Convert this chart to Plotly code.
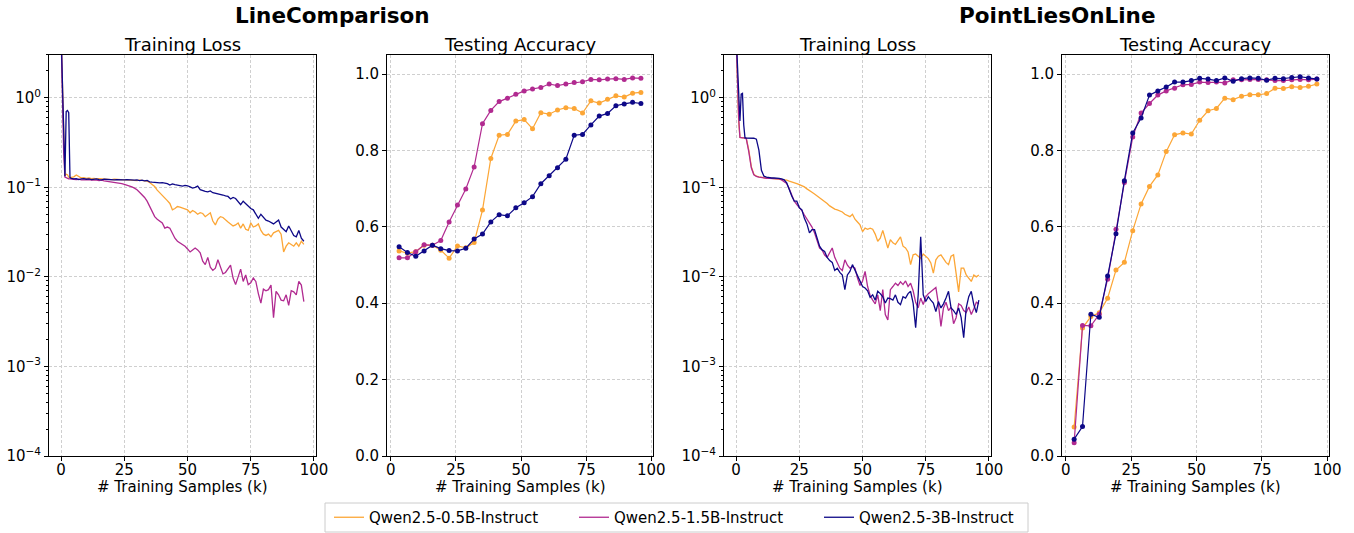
import plotly.graph_objects as go

W, H = 1354, 533

MODELS = ["Qwen2.5-0.5B-Instruct", "Qwen2.5-1.5B-Instruct", "Qwen2.5-3B-Instruct"]
COLORS = ["#fca636", "#b12a90", "#0d0887"]
TASKS = ["LineComparison", "PointLiesOnLine"]
SUBTITLES = ["Training Loss", "Testing Accuracy"]
XLABEL = "# Training Samples (k)"

# ---- training loss (x in thousands of samples) ----
LOSS_K = [0, 0.5, 1, 1.5, 2, 2.5, 3, 3.5] + list(range(4, 97))

LC_LOSS_05B = [5, 1.2, 0.3, 0.135, 0.14, 0.138, 0.13, 0.128,
    0.129, 0.131, 0.137, 0.133, 0.127, 0.128, 0.126, 0.127, 0.125, 0.126,
    0.124, 0.125, 0.124, 0.123, 0.124, 0.123, 0.122, 0.123, 0.122, 0.121,
    0.122, 0.121, 0.121, 0.120, 0.121, 0.120, 0.119, 0.120, 0.119, 0.118, 0.117,
    0.113, 0.108, 0.102, 0.093, 0.087, 0.082, 0.078, 0.071, 0.066, 0.056,
    0.058, 0.061, 0.060, 0.059, 0.058, 0.056, 0.052, 0.055, 0.053, 0.050,
    0.052, 0.051, 0.047, 0.049, 0.052, 0.042, 0.038, 0.044, 0.047, 0.046,
    0.043, 0.041, 0.039, 0.037, 0.038, 0.040, 0.035, 0.039, 0.034, 0.033,
    0.040, 0.036, 0.037, 0.039, 0.033, 0.030, 0.029, 0.030, 0.028, 0.031,
    0.032, 0.033, 0.030, 0.019, 0.022, 0.024, 0.023, 0.022, 0.024, 0.022,
    0.025, 0.023]

LC_LOSS_15B = [5, 0.8, 0.25, 0.13, 0.127, 0.125, 0.124, 0.124,
    0.123, 0.123, 0.122, 0.123, 0.121, 0.122, 0.121, 0.122, 0.120, 0.121,
    0.120, 0.119, 0.120, 0.118, 0.117, 0.117, 0.116, 0.115, 0.113, 0.112,
    0.110, 0.108, 0.106, 0.103, 0.101, 0.098, 0.094, 0.088, 0.083, 0.077,
    0.070, 0.062, 0.054, 0.047, 0.044, 0.042, 0.040, 0.035, 0.036, 0.035,
    0.031, 0.027, 0.025, 0.024, 0.023, 0.022, 0.0205, 0.019, 0.020, 0.021,
    0.020, 0.0185, 0.015, 0.0137, 0.0165, 0.0128, 0.0118, 0.0125, 0.0155, 0.0128,
    0.0108, 0.0112, 0.0125, 0.0135, 0.0097, 0.0082, 0.0100, 0.0122, 0.0089, 0.0105,
    0.0082, 0.0086, 0.0097, 0.0089, 0.0065, 0.0051, 0.0073, 0.0070, 0.0072, 0.0081,
    0.0035, 0.0069, 0.0063, 0.0055, 0.0054, 0.0063, 0.0048, 0.0070, 0.0068, 0.0063,
    0.0089, 0.0081, 0.0053]

LC_LOSS_3B = [5, 1.5, 0.3, 0.133, 0.70, 0.72, 0.68, 0.128,
    0.126, 0.124, 0.125, 0.122, 0.124, 0.125, 0.123, 0.124, 0.122, 0.123,
    0.124, 0.122, 0.121, 0.123, 0.122, 0.121, 0.122, 0.121, 0.122, 0.121,
    0.120, 0.121, 0.122, 0.121, 0.121, 0.120, 0.121, 0.119, 0.120, 0.118, 0.119,
    0.115, 0.114, 0.113, 0.114, 0.112, 0.113, 0.112, 0.110, 0.106, 0.109,
    0.107, 0.106, 0.104, 0.103, 0.105, 0.104, 0.101, 0.098, 0.100, 0.103,
    0.094, 0.091, 0.090, 0.089, 0.091, 0.087, 0.086, 0.085, 0.083, 0.082,
    0.080, 0.079, 0.074, 0.077, 0.075, 0.069, 0.064, 0.070, 0.066, 0.061,
    0.058, 0.056, 0.051, 0.045, 0.050, 0.046, 0.043, 0.042, 0.040, 0.039,
    0.041, 0.043, 0.036, 0.034, 0.032, 0.037, 0.033, 0.029, 0.028, 0.033,
    0.027, 0.025]

PL_LOSS_05B = [5, 1.5, 0.55, 0.36, 0.357, 0.356, 0.356, 0.356,
    0.352, 0.26, 0.17, 0.140, 0.133, 0.131, 0.129, 0.128, 0.127, 0.127,
    0.126, 0.127, 0.126, 0.125, 0.124, 0.122, 0.120, 0.117, 0.115, 0.113,
    0.110, 0.107, 0.105, 0.101, 0.096, 0.091, 0.088, 0.084, 0.080, 0.077,
    0.072, 0.070, 0.066, 0.062, 0.059, 0.057, 0.056, 0.055, 0.053, 0.050,
    0.048, 0.047, 0.050, 0.044, 0.041, 0.038, 0.032, 0.035, 0.034, 0.035,
    0.034, 0.030, 0.025, 0.027, 0.033, 0.027, 0.021, 0.026, 0.024, 0.023,
    0.025, 0.028, 0.022, 0.021, 0.019, 0.0137, 0.0176, 0.018, 0.017, 0.016,
    0.018, 0.017, 0.016, 0.0143, 0.011, 0.0155, 0.017, 0.0176, 0.016, 0.0145,
    0.0137, 0.017, 0.0176, 0.0105, 0.0068, 0.0125, 0.0125, 0.0105, 0.0095, 0.0089,
    0.0105, 0.0100, 0.0105]

PL_LOSS_15B = [5, 1.6, 0.6, 0.36, 0.356, 0.356, 0.356, 0.355,
    0.350, 0.25, 0.165, 0.138, 0.132, 0.130, 0.128, 0.127, 0.126, 0.126,
    0.126, 0.126, 0.125, 0.124, 0.121, 0.116, 0.110, 0.096, 0.082, 0.070,
    0.064, 0.059, 0.055, 0.049, 0.044, 0.040, 0.036, 0.031, 0.025, 0.021,
    0.020, 0.0175, 0.0165, 0.019, 0.021, 0.0165, 0.0143, 0.0125, 0.0118, 0.0155,
    0.0135, 0.0125, 0.0130, 0.0125, 0.0097, 0.0080, 0.0090, 0.0115, 0.0078, 0.0062,
    0.0055, 0.0050, 0.0063, 0.0042, 0.0072, 0.0038, 0.0033, 0.0072, 0.0078, 0.0085,
    0.0080, 0.0088, 0.0082, 0.0090, 0.0078, 0.0085, 0.0070, 0.0052, 0.0045, 0.0058,
    0.0049, 0.0060, 0.0065, 0.0068, 0.0072, 0.0076, 0.0050, 0.0028, 0.0045, 0.0052,
    0.0042, 0.0046, 0.0030, 0.0035, 0.0050, 0.0048, 0.0042, 0.0040, 0.0046, 0.0038,
    0.0044, 0.0052, 0.0050]

PL_LOSS_3B = [5, 2.5, 1.0, 0.55, 1.1, 1.12, 0.5, 0.356,
    0.355, 0.355, 0.354, 0.353, 0.345, 0.26, 0.155, 0.133, 0.130, 0.128,
    0.127, 0.127, 0.127, 0.126, 0.124, 0.121, 0.112, 0.092, 0.080, 0.070,
    0.070, 0.059, 0.056, 0.045, 0.039, 0.031, 0.0336, 0.0336, 0.027, 0.022,
    0.020, 0.0192, 0.0165, 0.0152, 0.0145, 0.0118, 0.0125, 0.0112, 0.0105, 0.0072,
    0.0105, 0.0115, 0.0137, 0.0120, 0.0105, 0.0090, 0.0078, 0.0075, 0.0070, 0.0059,
    0.0063, 0.0055, 0.0069, 0.0065, 0.0060, 0.0051, 0.0058, 0.0057, 0.0055, 0.0063,
    0.0052, 0.0049, 0.0060, 0.0058, 0.0065, 0.0069, 0.0051, 0.0027, 0.0063, 0.028,
    0.0063, 0.0053, 0.0060, 0.0055, 0.0051, 0.0041, 0.0053, 0.0045, 0.0050, 0.0058,
    0.0069, 0.0045, 0.0042, 0.0038, 0.0045, 0.0035, 0.0021, 0.0045, 0.0060, 0.0069,
    0.0049, 0.0040, 0.0055]

# ---- testing accuracy ----
ACC_K = [3.2, 6.4, 9.6, 12.8, 16.0, 19.2, 22.4, 25.6, 28.8, 32.0,
         35.2, 38.4, 41.6, 44.8, 48.0, 51.2, 54.4, 57.6, 60.8, 64.0,
         67.2, 70.4, 73.6, 76.8, 80.0, 83.2, 86.4, 89.6, 92.8, 96.0]

LC_ACC_05B = [0.537, 0.531, 0.535, 0.552, 0.552, 0.539, 0.518, 0.550, 0.545, 0.559,
              0.644, 0.779, 0.840, 0.842, 0.877, 0.881, 0.857, 0.899, 0.895, 0.906,
              0.912, 0.910, 0.898, 0.930, 0.924, 0.934, 0.943, 0.940, 0.950, 0.952]
LC_ACC_15B = [0.519, 0.519, 0.535, 0.553, 0.552, 0.564, 0.613, 0.657, 0.699, 0.757,
              0.870, 0.905, 0.928, 0.937, 0.947, 0.956, 0.961, 0.965, 0.974, 0.970,
              0.974, 0.978, 0.980, 0.986, 0.985, 0.987, 0.988, 0.986, 0.990, 0.989]
LC_ACC_3B = [0.548, 0.533, 0.523, 0.537, 0.552, 0.543, 0.538, 0.537, 0.544, 0.568,
             0.581, 0.613, 0.632, 0.629, 0.650, 0.663, 0.679, 0.713, 0.734, 0.755,
             0.777, 0.840, 0.842, 0.867, 0.890, 0.897, 0.917, 0.922, 0.926, 0.923]

PL_ACC_05B = [0.076, 0.335, 0.365, 0.375, 0.413, 0.487, 0.507, 0.590, 0.660, 0.706,
              0.736, 0.797, 0.841, 0.846, 0.843, 0.879, 0.904, 0.910, 0.937, 0.933,
              0.942, 0.946, 0.946, 0.949, 0.963, 0.962, 0.967, 0.965, 0.968, 0.974]
PL_ACC_15B = [0.035, 0.342, 0.341, 0.371, 0.463, 0.594, 0.716, 0.835, 0.898, 0.923,
              0.945, 0.956, 0.963, 0.972, 0.973, 0.979, 0.978, 0.979, 0.977, 0.985,
              0.985, 0.986, 0.986, 0.985, 0.983, 0.983, 0.985, 0.986, 0.985, 0.987]
PL_ACC_3B = [0.044, 0.077, 0.371, 0.363, 0.471, 0.582, 0.721, 0.846, 0.885, 0.945,
             0.956, 0.966, 0.979, 0.979, 0.983, 0.989, 0.987, 0.983, 0.990, 0.981,
             0.988, 0.990, 0.989, 0.984, 0.989, 0.988, 0.991, 0.993, 0.990, 0.987]

LOSS_TICKS = [1e-4, 1e-3, 1e-2, 1e-1, 1]
LOSS_TICKTEXT = ["10<sup>\u22124</sup>", "10<sup>\u22123</sup>", "10<sup>\u22122</sup>",
                 "10<sup>\u22121</sup>", "10<sup>0</sup>"]
ACC_TICKS = [0.0, 0.2, 0.4, 0.6, 0.8, 1.0]
ACC_TICKTEXT = ["0.0", "0.2", "0.4", "0.6", "0.8", "1.0"]
X_TICKS = [0, 25, 50, 75, 100]

FONT = "DejaVu Sans"
LEGEND_IDS = ["legend", "legend2", "legend3"]

panels = [
    ("x", "y", "loss", [LC_LOSS_05B, LC_LOSS_15B, LC_LOSS_3B]),
    ("x2", "y2", "acc", [LC_ACC_05B, LC_ACC_15B, LC_ACC_3B]),
    ("x3", "y3", "loss", [PL_LOSS_05B, PL_LOSS_15B, PL_LOSS_3B]),
    ("x4", "y4", "acc", [PL_ACC_05B, PL_ACC_15B, PL_ACC_3B]),
]

fig = go.Figure()
for pi, (xa, ya, kind, series) in enumerate(panels):
    for mi, vals in enumerate(series):
        if kind == "loss":
            assert len(vals) == len(LOSS_K)
            fig.add_trace(go.Scatter(
                x=LOSS_K, y=vals, xaxis=xa, yaxis=ya, mode="lines",
                line=dict(color=COLORS[mi], width=1.3),
                name=MODELS[mi], legendgroup=MODELS[mi], showlegend=(pi == 0),
                legend=LEGEND_IDS[mi],
            ))
        else:
            fig.add_trace(go.Scatter(
                x=ACC_K, y=vals, xaxis=xa, yaxis=ya, mode="lines+markers",
                line=dict(color=COLORS[mi], width=1.2),
                marker=dict(color=COLORS[mi], size=5),
                name=MODELS[mi], legendgroup=MODELS[mi], showlegend=False,
                legend=LEGEND_IDS[mi],
            ))

# panel geometry (pixels)
XDOM = [(49, 316), (387, 653), (724, 991), (1062, 1329)]
TOP, BOT = 55, 456
XRANGES = [[-4.8, 100.8], [-1.44, 100.64], [-4.8, 100.8], [-1.44, 100.64]]

axis_common = dict(
    showline=True, linecolor="black", linewidth=1, mirror=True,
    ticks="outside", ticklen=4, tickwidth=1, tickcolor="black",
    showgrid=True, gridcolor="#cfcfcf", griddash="3px,2px", gridwidth=1,
    zeroline=False, tickfont=dict(family=FONT, size=15, color="black"),
)

layout = dict(
    width=W, height=H, margin=dict(l=0, r=0, t=0, b=0, autoexpand=False),
    paper_bgcolor="white", plot_bgcolor="white",
    font=dict(family=FONT, color="black"),
)
annotations = []
for i, ((l, r), xr) in enumerate(zip(XDOM, XRANGES)):
    sfx = "" if i == 0 else str(i + 1)
    kind = panels[i][2]
    layout["xaxis" + sfx] = dict(
        axis_common, domain=[l / W, r / W], range=xr, anchor="y" + sfx,
        tickmode="array", tickvals=X_TICKS, ticklabelstandoff=-4,
    )
    if kind == "loss":
        minor_vals = [m * 10 ** e for e in range(-4, 1) for m in range(2, 10)]
        layout["yaxis" + sfx] = dict(
            axis_common, domain=[1 - BOT / H, 1 - TOP / H], anchor="x" + sfx,
            type="log", range=[-4, 0.477], tickmode="array",
            tickvals=LOSS_TICKS, ticktext=LOSS_TICKTEXT,
            minor=dict(ticks="outside", ticklen=2, tickcolor="black",
                       tickmode="array", tickvals=minor_vals, showgrid=False),
        )
    else:
        layout["yaxis" + sfx] = dict(
            axis_common, domain=[1 - BOT / H, 1 - TOP / H], anchor="x" + sfx,
            range=[0, 1.05], tickmode="array",
            tickvals=ACC_TICKS, ticktext=ACC_TICKTEXT,
        )
    cx = (l + r) / 2 / W
    annotations.append(dict(
        text=SUBTITLES[i % 2], x=cx, y=1 - 44 / H, xref="paper", yref="paper",
        xanchor="center", yanchor="middle", showarrow=False,
        font=dict(family=FONT, size=18, color="black"),
    ))
    annotations.append(dict(
        text=XLABEL, x=cx, y=1 - 487 / H, xref="paper", yref="paper",
        xanchor="center", yanchor="middle", showarrow=False,
        font=dict(family=FONT, size=15, color="black"),
    ))

SUP_X = [332, 1057]
for t, sx in zip(TASKS, SUP_X):
    annotations.append(dict(
        text="<b>" + t + "</b>", x=sx / W, y=1 - 15 / H, xref="paper", yref="paper",
        xanchor="center", yanchor="middle", showarrow=False,
        font=dict(family=FONT, size=21.5, color="black"),
    ))
layout["annotations"] = annotations

# legend: one entry per model, laid out in a single framed row
LEG_TEXT_X = [375, 620, 865]
LEG_BOX = (325, 503, 1028, 532)
for lid, tx in zip(LEGEND_IDS, LEG_TEXT_X):
    layout[lid] = dict(
        orientation="h", x=(tx - 46) / W, xanchor="left",
        y=1 - 517.5 / H, yanchor="middle", borderwidth=0,
        bgcolor="rgba(0,0,0,0)",
        font=dict(family=FONT, size=15, color="black"),
    )
layout["shapes"] = [dict(
    type="rect", xref="paper", yref="paper",
    x0=LEG_BOX[0] / W, x1=LEG_BOX[2] / W, y0=1 - LEG_BOX[3] / H, y1=1 - LEG_BOX[1] / H,
    line=dict(color="#cccccc", width=1), fillcolor="white", layer="below",
)]
layout["showlegend"] = True
fig.update_layout(**layout)

fig.write_html("out.html")
